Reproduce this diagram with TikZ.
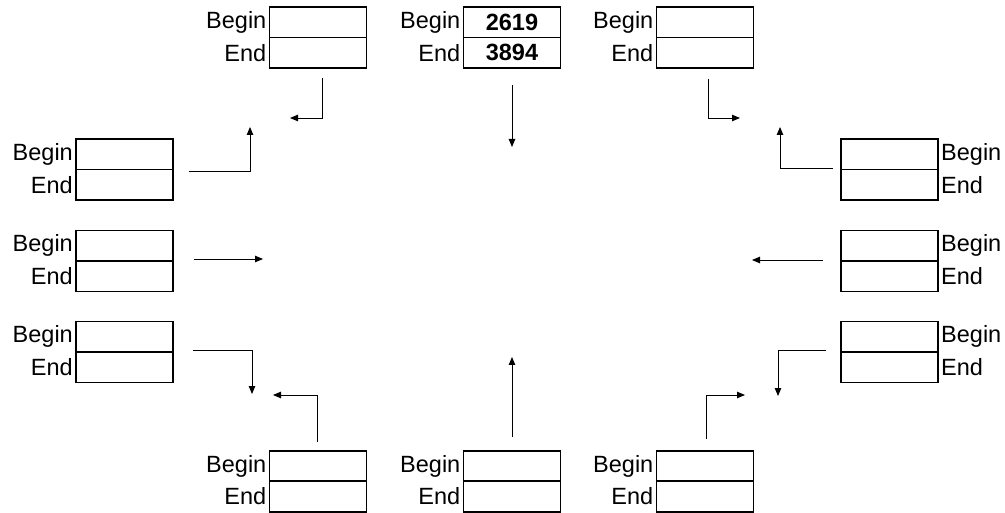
\documentclass[tikz,border=0pt]{standalone}
\usepackage{fontspec}
\setmainfont{Liberation Sans}
\usetikzlibrary{arrows.meta}
\begin{document}
\begin{tikzpicture}[x=1pt,y=-1pt,
  cell/.style={draw,line width=1.8pt,outer sep=0pt,minimum width=97pt,minimum height=30.5pt,inner sep=0pt,font=\fontsize{23.5}{25}\selectfont\bfseries},
  lab/.style={inner sep=0pt,font=\fontsize{23.5}{25}\selectfont},
  conn/.style={line width=0.9pt,-{Triangle[length=8pt,width=6.5pt]}}]
\useasboundingbox (0,0) rectangle (1005,513);
% boxes: name, x center, y of begin row center
\foreach \n/\x/\y in {tl/318/22.25, tc/512/22.25, tr/705/22.25,
                      la/124.5/154.25, lb/124.5/245.75, lc/124.5/336.75,
                      ra/889.5/154.25, rb/889.5/245.75, rc/889.5/336.75,
                      bl/318/466, bc/512/466, br/705/466}{
  \node[cell] (\n b) at (\x,\y) {};
  \node[cell,anchor=north] (\n e) at (\n b.south) {};
}
\node[cell] at (tcb) {2619};
\node[cell] at (tce) {3894};
% labels
\foreach \n in {tl,tc,tr,la,lb,lc,bl,bc,br}{
  \node[lab,anchor=east] (\n lb) at ([xshift=-3pt]\n b.west) {Begin};
  \node[lab,anchor=east] (\n le) at ([xshift=-3pt]\n e.west) {End};
}
\foreach \n in {ra,rb,rc}{
  \node[lab,anchor=west] (\n lb) at ([xshift=3pt]\n b.east) {Begin};
  \node[lab,anchor=west] (\n le) at ([xshift=3pt]\n e.east) {End};
}
% connector ends
\coordinate (c1s) at (322,78);  \coordinate (c1e) at (290,118);
\coordinate (c2s) at (512,85);  \coordinate (c2e) at (512,147);
\coordinate (c3s) at (708,79);  \coordinate (c3e) at (740,118);
\coordinate (c4s) at (189,171); \coordinate (c4e) at (250,127);
\coordinate (c5s) at (194,259); \coordinate (c5e) at (263,259);
\coordinate (c6s) at (193,350); \coordinate (c6e) at (252,394);
\coordinate (c7s) at (317,442); \coordinate (c7e) at (273,395);
\coordinate (c8s) at (512,437); \coordinate (c8e) at (512,357);
\coordinate (c9s) at (706,439); \coordinate (c9e) at (745,395);
\coordinate (c10s) at (826,350); \coordinate (c10e) at (778,396);
\coordinate (c11s) at (833,168); \coordinate (c11e) at (780,127);
\coordinate (c12s) at (823,260); \coordinate (c12e) at (752,260);
\draw[conn] (c1s) |- (c1e);
\draw[conn] (c2s) -- (c2e);
\draw[conn] (c3s) |- (c3e);
\draw[conn] (c4s) -| (c4e);
\draw[conn] (c5s) -- (c5e);
\draw[conn] (c6s) -| (c6e);
\draw[conn] (c7s) |- (c7e);
\draw[conn] (c8s) -- (c8e);
\draw[conn] (c9s) |- (c9e);
\draw[conn] (c10s) -| (c10e);
\draw[conn] (c11s) -| (c11e);
\draw[conn] (c12s) -- (c12e);
\end{tikzpicture}
\end{document}
